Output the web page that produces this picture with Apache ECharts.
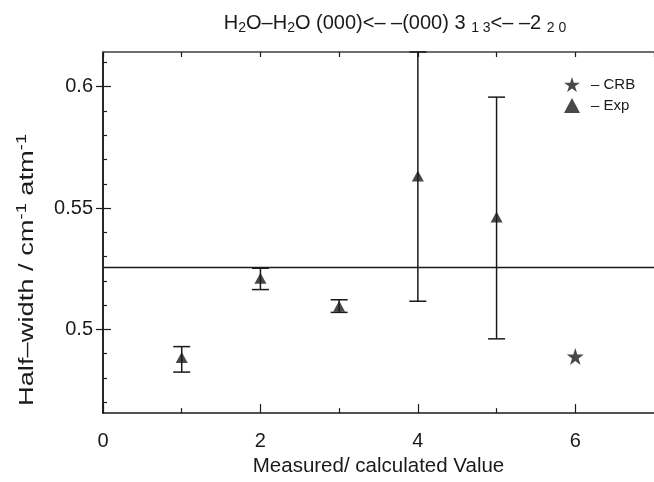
<!DOCTYPE html>
<html>
<head>
<meta charset="utf-8">
<script src="https://cdn.jsdelivr.net/npm/echarts@6/dist/echarts.min.js"></script>
<style>html,body{margin:0;padding:0;background:#fff}#c{width:654px;height:482px}</style>
</head>
<body>
<div id="c"></div>
<script>
// ---- data ----
const expX = [1, 2, 3, 4, 5];
const expMean = [0.4884, 0.5211, 0.5095, 0.5632, 0.5463];
const expLow = [0.4824, 0.5164, 0.5070, 0.5116, 0.4961];
const expHigh = [0.4929, 0.5252, 0.5122, 0.6143, 0.5957];
const crbX = [6];
const crbVal = [0.4888];
const refValue = 0.5255;
const xMajorTicks = [0, 2, 4, 6];
const xMinorTicks = [1, 3, 5];
const yMajorTicks = [0.5, 0.55, 0.6];
const yMinorTicks = [0.47, 0.48, 0.49, 0.51, 0.52, 0.53, 0.54, 0.56, 0.57, 0.58, 0.59, 0.61];
const xRange = [0, 7];
const yRange = [0.4655, 0.6143];

const FONT = '"Liberation Sans", Arial, Helvetica, sans-serif';
const INK = '#1a1a1a';
const STAR = 'path://M50,0 L61.2,34.5 L97.6,34.5 L68.2,55.9 L79.4,90.5 L50,69.1 L20.6,90.5 L31.8,55.9 L2.4,34.5 L38.8,34.5 Z';

const chart = echarts.init(document.getElementById('c'), null, {renderer: 'canvas'});

const baseX = {type: 'value', min: xRange[0], max: xRange[1], splitLine: {show: false}};
const baseY = {type: 'value', min: yRange[0], max: yRange[1], splitLine: {show: false}};

const option = {
  backgroundColor: '#fff',
  animation: false,
  textStyle: {fontFamily: FONT, color: INK},
  title: {
    text: 'H{sub|2}O–H{sub|2}O (000)<– –(000) 3 {sub|1 3}<– –2 {sub|2 0}',
    left: 390, top: 7, textAlign: 'center',
    textStyle: {
      fontFamily: FONT, fontSize: 20, fontWeight: 'normal', color: INK,
      rich: {sub: {fontFamily: FONT, fontSize: 14, color: INK, verticalAlign: 'bottom', padding: [9, 0, 0, 0]}}
    }
  },
  legend: {
    orient: 'vertical', left: 559, top: 72, itemGap: 6, itemWidth: 16, itemHeight: 15,
    data: [{name: 'CRB', icon: STAR}, {name: 'Exp', icon: 'triangle'}],
    formatter: '– {name}',
    textStyle: {fontFamily: FONT, fontSize: 15, color: INK, padding: [0, 0, 0, 6]}
  },
  grid: {left: 103, right: -5, top: 52, bottom: 65, containLabel: false},
  xAxis: [
    Object.assign({}, baseX, {
      position: 'bottom', interval: 1,
      axisLine: {show: true, lineStyle: {color: INK, width: 1.5}},
      axisTick: {show: true, inside: true, length: 5, customValues: xMinorTicks, lineStyle: {color: INK, width: 1.2}},
      axisLabel: {show: true, customValues: xMajorTicks, margin: 18, fontFamily: FONT, fontSize: 20, color: INK},
      name: 'Measured/ calculated Value', nameLocation: 'middle', nameGap: 41,
      nameTextStyle: {fontFamily: FONT, fontSize: 20.5, color: INK}
    }),
    Object.assign({}, baseX, {
      position: 'bottom',
      axisLine: {show: false},
      axisTick: {show: true, inside: true, length: 9, customValues: xMajorTicks, lineStyle: {color: INK, width: 1.2}},
      axisLabel: {show: false}
    }),
    Object.assign({}, baseX, {
      position: 'top', interval: 1,
      axisLine: {show: true, lineStyle: {color: '#6e6e6e', width: 2}},
      axisTick: {show: true, inside: true, length: 5, lineStyle: {color: INK, width: 1.2}},
      axisLabel: {show: false}
    })
  ],
  yAxis: [
    Object.assign({}, baseY, {
      position: 'left',
      axisLine: {show: true, lineStyle: {color: INK, width: 1.5}},
      axisTick: {show: true, inside: true, length: 4, customValues: yMinorTicks, lineStyle: {color: INK, width: 1.2}},
      axisLabel: {show: true, customValues: yMajorTicks, margin: 10, fontFamily: FONT, fontSize: 20, color: INK}
    }),
    Object.assign({}, baseY, {
      position: 'left',
      axisLine: {show: false},
      axisTick: {show: true, inside: true, length: 8, customValues: yMajorTicks, lineStyle: {color: INK, width: 1.2}},
      axisLabel: {show: false}
    }),
    Object.assign({}, baseY, {
      position: 'right',
      axisLine: {show: true, lineStyle: {color: INK, width: 1.5}},
      axisTick: {show: true, inside: true, length: 7, customValues: yMajorTicks, lineStyle: {color: INK, width: 1.2}},
      axisLabel: {show: false}
    })
  ],
  graphic: [{
    type: 'text', x: 27, y: 270, rotation: Math.PI / 2, scaleX: 1.3, scaleY: 1,
    style: {
      text: 'Half–width / cm{sup|-1} atm{sup|-1}',
      fontFamily: FONT, fontSize: 21, fill: INK, align: 'center', verticalAlign: 'middle',
      rich: {sup: {fontFamily: FONT, fontSize: 14, fill: INK, verticalAlign: 'top', padding: [0, 0, 9, 0]}}
    }
  }],
  series: [
    {
      name: 'ref', type: 'line', xAxisIndex: 0, yAxisIndex: 0, symbol: 'none', silent: true,
      lineStyle: {color: INK, width: 1.5},
      data: [[xRange[0], refValue], [xRange[1], refValue]]
    },
    {
      name: 'errors', type: 'custom', xAxisIndex: 0, yAxisIndex: 0, silent: true,
      data: expX.map((x, i) => [x, expLow[i], expHigh[i]]),
      renderItem: function (params, api) {
        const x = api.value(0);
        const top = api.coord([x, api.value(2)]);
        const bot = api.coord([x, api.value(1)]);
        const hw = 8.5;
        const st = {stroke: INK, lineWidth: 1.5};
        return {
          type: 'group',
          children: [
            {type: 'line', shape: {x1: top[0], y1: top[1], x2: bot[0], y2: bot[1]}, style: st},
            {type: 'line', shape: {x1: top[0] - hw, y1: top[1], x2: top[0] + hw, y2: top[1]}, style: st},
            {type: 'line', shape: {x1: bot[0] - hw, y1: bot[1], x2: bot[0] + hw, y2: bot[1]}, style: st}
          ]
        };
      }
    },
    {
      name: 'Exp', type: 'scatter', xAxisIndex: 0, yAxisIndex: 0, symbol: 'triangle', symbolSize: [12, 11],
      itemStyle: {color: INK},
      data: expX.map((x, i) => [x, expMean[i]])
    },
    {
      name: 'CRB', type: 'scatter', xAxisIndex: 0, yAxisIndex: 0, symbol: STAR, symbolSize: 17,
      itemStyle: {color: INK},
      data: crbX.map((x, i) => [x, crbVal[i]])
    }
  ]
};
chart.setOption(option);
</script>
</body>
</html>
